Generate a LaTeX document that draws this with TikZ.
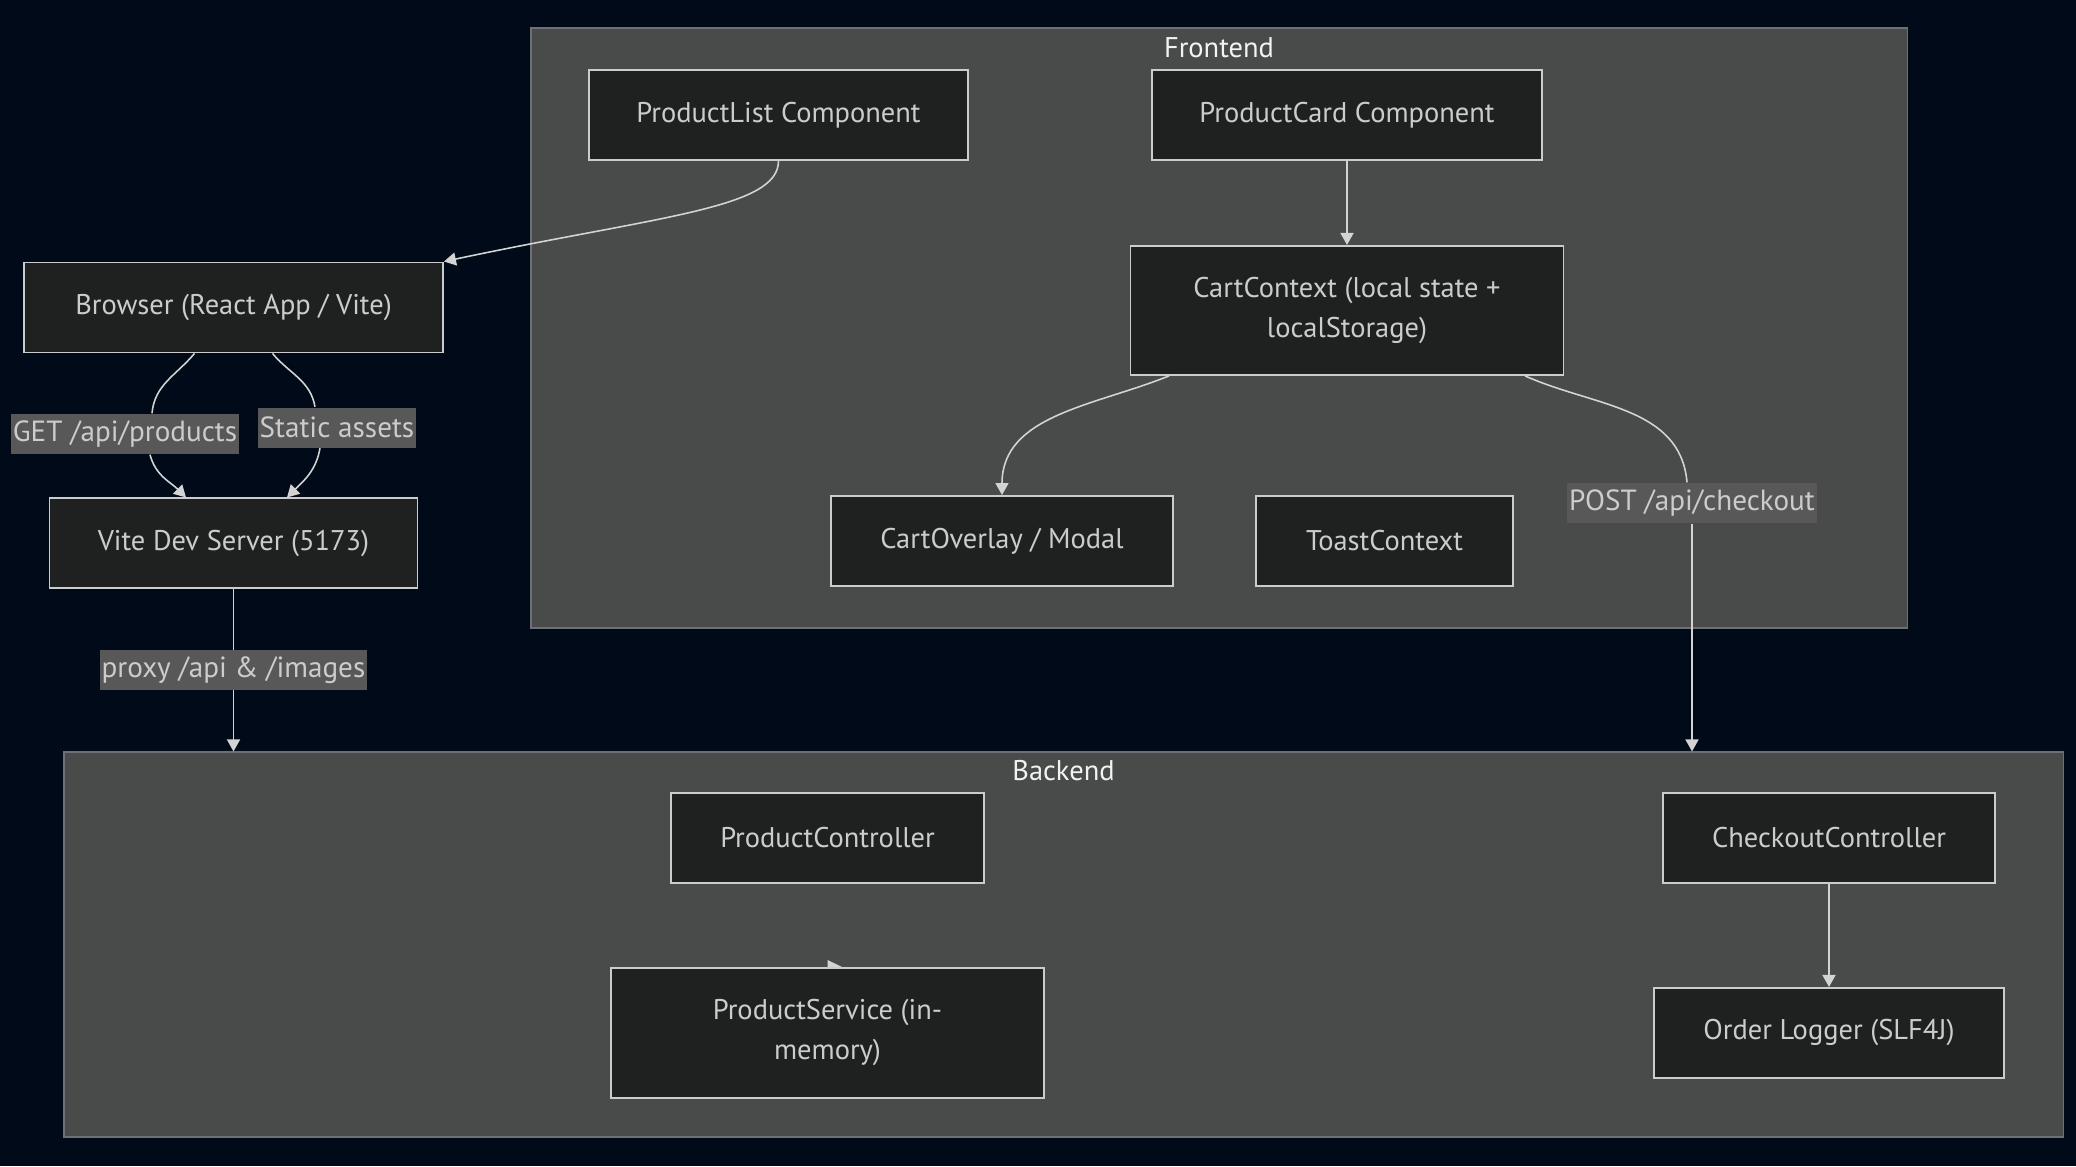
\documentclass[tikz,border=0pt]{standalone}
\usepackage{fontspec}
\setmainfont{PT Sans}
\usepackage{tikz}
\usetikzlibrary{arrows.meta}
\usetikzlibrary{positioning}

\definecolor{bgcol}{HTML}{000A18}
\definecolor{clusterfill}{HTML}{494A4A}
\definecolor{clusterline}{HTML}{6E7078}
\definecolor{nodefill}{HTML}{1F2020}
\definecolor{nodeline}{HTML}{CCCCCC}
\definecolor{txtcol}{HTML}{CCCCCC}
\definecolor{lblfill}{HTML}{585858}
\definecolor{edgecol}{HTML}{D3D3D3}
\definecolor{titlecol}{HTML}{F2F2F2}

\begin{document}
\begin{tikzpicture}[
    box/.style={draw=nodeline, fill=nodefill, line width=0.55pt, text=txtcol, minimum height=0.9cm, align=center, font=\fontsize{8.1}{11.4}\selectfont},
    cluster/.style={draw=clusterline, fill=clusterfill, line width=0.3pt},
    elabel/.style={fill=lblfill, text=txtcol, inner xsep=0.6pt, inner ysep=0pt, minimum height=0.4cm, font=\fontsize{8.3}{9}\selectfont},
    ctitle/.style={text=titlecol, inner sep=0pt, font=\fontsize{8.1}{9}\selectfont},
    flow/.style={draw=edgecol, line width=0.45pt, -{Triangle[length=0.12cm, width=0.13cm]}}
]
    \fill[bgcol] (0,0) rectangle (20.76,-11.66);
    \useasboundingbox (0,0) rectangle (20.76,-11.66);

    \node[cluster, minimum width=13.76cm, minimum height=6cm] (frontend) at (12.19,-3.28) {};
    \node[ctitle] (fetitle) at ([yshift=-0.2cm]frontend.north) {Frontend};
    \node[cluster, minimum width=19.99cm, minimum height=3.85cm] (backend) at (10.635,-9.445) {};
    \node[ctitle] (betitle) at ([yshift=-0.19cm]backend.north) {Backend};

    \node[box, minimum width=3.79cm] (plist) at (7.785,-1.15) {ProductList Component};
    \node[box, minimum width=3.90cm] (pcard) at (13.47,-1.15) {ProductCard Component};
    \node[box, minimum width=4.33cm, minimum height=1.29cm, below=0.84cm of pcard] (cart) {CartContext (local state +\\localStorage)};
    \node[box, minimum width=3.42cm] (overlay) at (10.02,-5.41) {CartOverlay / Modal};
    \node[box, minimum width=2.57cm] (toast) at (13.845,-5.41) {ToastContext};
    \node[box, minimum width=4.19cm] (browser) at (2.335,-3.075) {Browser (React App / Vite)};
    \node[box, minimum width=3.68cm, below=1.44cm of browser] (vite) {Vite Dev Server (5173)};
    \node[box, minimum width=3.13cm] (pctrl) at (8.275,-8.38) {ProductController};
    \node[box, minimum width=4.33cm, minimum height=1.30cm, below=0.83cm of pctrl] (psvc) {ProductService (in-\\memory)};
    \node[box, minimum width=3.32cm] (cctrl) at (18.29,-8.38) {CheckoutController};
    \node[box, minimum width=3.50cm, below=1.03cm of cctrl] (logger) {Order Logger (SLF4J)};

    \node[elabel] (getlbl) at (1.25,-4.34) {GET /api/products};
    \node[elabel] (statlbl) at (3.37,-4.275) {Static assets};
    \node[elabel] (postlbl) at (16.92,-5.03) {POST /api/checkout};

    \draw[flow] (plist.south) to[out=-90, in=12, out looseness=0.35, in looseness=1.6] (browser.north east);
    \draw[flow, -] ([xshift=-0.39cm]browser.south) to[out=-130, in=85] ([xshift=0.27cm]getlbl.north);
    \draw[flow] ([xshift=0.25cm]getlbl.south) to[out=-75, in=135] ([xshift=-0.475cm]vite.north);
    \draw[flow, -] ([xshift=0.39cm]browser.south) to[out=-50, in=100] ([xshift=-0.22cm]statlbl.north);
    \draw[flow] ([xshift=-0.17cm]statlbl.south) to[out=-100, in=45] ([xshift=0.535cm]vite.north);
    \draw[flow] (vite.south) -- (vite.south |- backend.north) node[elabel, midway] (proxylbl) {proxy /api \& /images};
    \draw[flow] (pcard) -- (cart);
    \draw[flow] ([xshift=-1.78cm]cart.south) to[out=202, in=90] (overlay.north);
    \draw[flow, -] ([xshift=1.78cm]cart.south) to[out=-24, in=95] ([xshift=-0.05cm]postlbl.north);
    \draw[flow] (postlbl.south) -- (postlbl.south |- backend.north);
    \fill[edgecol] (psvc.north) -- ++(0,0.07) -- ++(0.145,-0.07) -- cycle;
    \draw[flow] (cctrl) -- (logger);
\end{tikzpicture}
\end{document}
